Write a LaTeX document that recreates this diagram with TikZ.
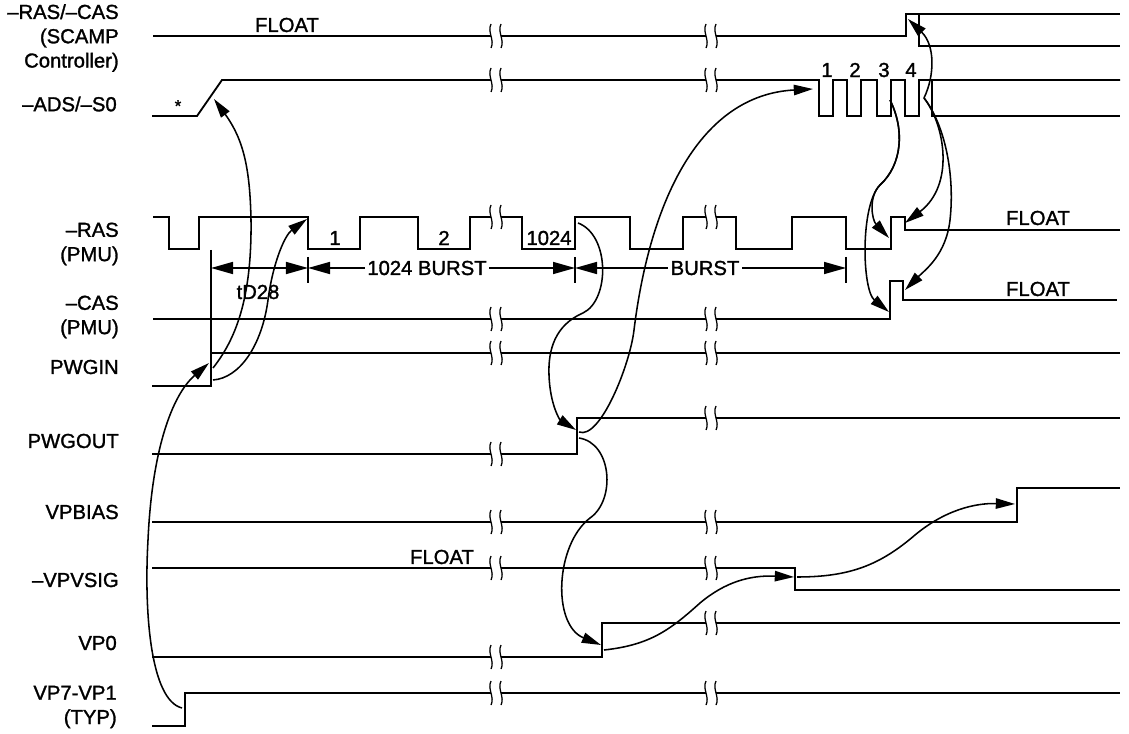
\documentclass[tikz,border=0pt]{standalone}
\usepackage{fontspec}
\setmainfont{Liberation Sans}[FakeBold=1.4]
\usepackage{tikz}
\usetikzlibrary{positioning,arrows.meta}

\tikzset{
  brk/.pic={
    \fill[white] (-5,-13) rectangle (5,13);
    \draw[line width=0.9pt] (-5,-12) .. controls (-9,-4) and (-1,4) .. (-5,12);
    \draw[line width=0.9pt] (5,-12) .. controls (1,-4) and (9,4) .. (5,12);
  }
}

\begin{document}
\begin{tikzpicture}[x=0.025cm, y=-0.025cm,
  sig/.style={line width=1.3pt},
  cause/.style={line width=1.1pt, -{Triangle[length=0.48cm,width=0.26cm]}},
  dim/.style={line width=1.1pt, {Triangle[length=0.55cm,width=0.3cm]}-{Triangle[length=0.55cm,width=0.3cm]}},
  lbl/.style={font=\fontsize{14.4}{17.3}\selectfont, inner sep=0pt},
  signame/.style={lbl, anchor=east, align=right}]

\useasboundingbox (0,0) rectangle (1129,734);

% signal names
\node[signame] (n-scamp) at (119,38) {–RAS/–CAS\\(SCAMP\\Controller)};
\node[signame] (n-ads) at (117,104) {–ADS/–S0};
\node[signame] (n-ras) at (119,244) {–RAS\\(PMU)};
\node[signame] (n-cas) at (119,317) {–CAS\\(PMU)};
\node[signame] (n-pwgin) at (119,367) {PWGIN};
\node[signame] (n-pwgout) at (119,441) {PWGOUT};
\node[signame] (n-vpbias) at (119,512) {VPBIAS};
\node[signame] (n-vpvsig) at (119,580) {–VPVSIG};
\node[signame] (n-vp0) at (117,643) {VP0};
\node[signame] (n-vp7) at (117,707) {VP7-VP1\\(TYP)};

% waveforms
\draw[sig] (153,36) -- (906,36) -- (906,14) -- (1120,14);
\draw[sig] (919,14) -- (919,46) -- (1120,46);
\draw[sig] (152,116) -- (197,116) -- (222,80) -- (819,80)
  \foreach \p in {819,847,877,905} { -- (\p,80) -- (\p,116) -- (\p+14,116) -- (\p+14,80) }
  -- (1120,80);
\draw[sig] (932,80) -- (932,116) -- (1120,116);
\draw[sig] (153,217) -- (169,217) -- (169,249) -- (199,249) -- (199,217)
  \foreach \a/\b in {308/360,418/470,522/575,630/683,736/792,846/891} { -- (\a,217) -- (\a,249) -- (\b,249) -- (\b,217) }
  -- (905,217) -- (905,230) -- (1120,230);
\draw[sig] (153,319) -- (890,319) -- (890,281) -- (903,281) -- (903,300) -- (1117,300);
\draw[sig] (152,386) -- (211,386) -- (211,353) -- (1120,353);
\draw[sig] (152,454) -- (577,454) -- (577,418) -- (1120,418);
\draw[sig] (152,522) -- (1017,522) -- (1017,488) -- (1120,488);
\draw[sig] (152,568) -- (795,568) -- (795,590) -- (1120,590);
\draw[sig] (152,657) -- (602,657) -- (602,623) -- (1120,623);
\draw[sig] (152,726) -- (185,726) -- (185,693) -- (1120,693);

\foreach \y in {36,80,217,319,353,454,522,568,657,693}
  \pic at (496,\y) {brk};
\foreach \y in {36,80,217,319,353,418,522,568,623,693}
  \pic at (711,\y) {brk};

\node[lbl] (t-float1) at (287,25) {FLOAT};
\node[lbl] (t-float2) at (442,557) {FLOAT};
\node[lbl] (t-float3) at (1038,218) {FLOAT};
\node[lbl] (t-float4) at (1038,289) {FLOAT};
\node[font=\fontsize{12}{12}\selectfont, inner sep=0pt] (t-star) at (178,106) {*};
\node[lbl] (t-r1) at (335,238) {1};
\node[lbl] (t-r2) at (444,238) {2};
\node[lbl] (t-r1024) at (549,238) {1024};
\node[lbl] (t-a1) at (827,70) {1};
\node[lbl] (t-a2) at (855,70) {2};
\node[lbl] (t-a3) at (884,70) {3};
\node[lbl] (t-a4) at (911,70) {4};

% timing dimensions
\coordinate (tk0) at (211,268);
\coordinate (tk1) at (308,268);
\coordinate (tk2) at (575,268);
\coordinate (tk3) at (846,268);
\draw[line width=1.1pt] (211,250) -- (211,353);
\foreach \x in {308,575,846}
  \draw[line width=1.1pt] (\x,257) -- (\x,283);
\draw[dim] (tk0) -- (tk1);
\draw[dim] (tk1) -- (tk2);
\draw[dim] (tk2) -- (tk3);
\node[lbl, fill=white, inner xsep=2pt] (t-burst1) at (427,268) {1024 BURST};
\node[lbl, fill=white, inner xsep=2pt] (t-burst2) at (705,268) {BURST};
\node[lbl] (t-td28) at (258,292) {tD28};

% cause and effect
\coordinate (vp7-up) at (182,708);
\coordinate (pwgin-in) at (209,363);
\coordinate (pwgin-b) at (213,380);
\coordinate (pwgin-c) at (213,368);
\coordinate (ras-f1) at (307,219);
\coordinate (ads-ramp) at (214,99);
\coordinate (ras-1024) at (578,223);
\coordinate (pwgout-in) at (576,430);
\coordinate (pwgout-e) at (579,432);
\coordinate (pwgout-f) at (579,438);
\coordinate (ads-p1) at (813,89);
\coordinate (vp0-in) at (601,645);
\coordinate (vp0-out) at (604,650);
\coordinate (vpvsig-in) at (794,577);
\coordinate (vpvsig-out) at (797,577);
\coordinate (vpbias-in) at (1015,504);
\coordinate (ads-p3) at (890,100);
\coordinate (ras-last) at (889,238);
\coordinate (cas-up) at (889,312);
\coordinate (ads-p4) at (924,98);
\coordinate (ras-float) at (905,223);
\coordinate (cas-float) at (905,290);
\coordinate (scamp-up) at (908,19);

\draw[cause] (vp7-up) .. controls (150,700) and (144,610) .. (148,540) .. controls (152,450) and (172,395) .. (pwgin-in);
\draw[cause] (pwgin-b) .. controls (240,378) and (262,345) .. (268,300) .. controls (273,262) and (285,235) .. (ras-f1);
\draw[cause] (pwgin-c) .. controls (235,340) and (252,300) .. (251,220) .. controls (250,170) and (244,140) .. (ads-ramp);
\draw[cause] (ras-1024) .. controls (610,235) and (610,300) .. (583,313) .. controls (555,325) and (548,350) .. (549,375) .. controls (550,405) and (560,420) .. (pwgout-in);
\draw[cause] (pwgout-e) .. controls (600,440) and (630,365) .. (634,330) .. controls (650,200) and (700,95) .. (ads-p1);
\draw[cause] (pwgout-f) .. controls (612,443) and (616,500) .. (590,518) .. controls (555,545) and (552,625) .. (vp0-in);
\draw[cause] (vp0-out) .. controls (650,645) and (670,630) .. (700,603) .. controls (725,582) and (750,575) .. (vpvsig-in);
\draw[cause] (vpvsig-out) .. controls (850,577) and (880,565) .. (915,535) .. controls (945,510) and (975,503) .. (vpbias-in);
\draw[cause] (ads-p3) .. controls (905,130) and (902,165) .. (880,185) .. controls (868,197) and (872,220) .. (ras-last);
\draw[cause] (ads-p3) .. controls (905,130) and (902,165) .. (880,185) .. controls (860,205) and (862,290) .. (cas-up);
\draw[cause] (ads-p4) .. controls (945,125) and (955,185) .. (ras-float);
\draw[cause] (ads-p4) .. controls (945,125) and (955,175) .. (950,220) .. controls (946,255) and (925,270) .. (cas-float);
\draw[cause] (ads-p4) .. controls (935,75) and (935,45) .. (scamp-up);

\end{tikzpicture}
\end{document}
